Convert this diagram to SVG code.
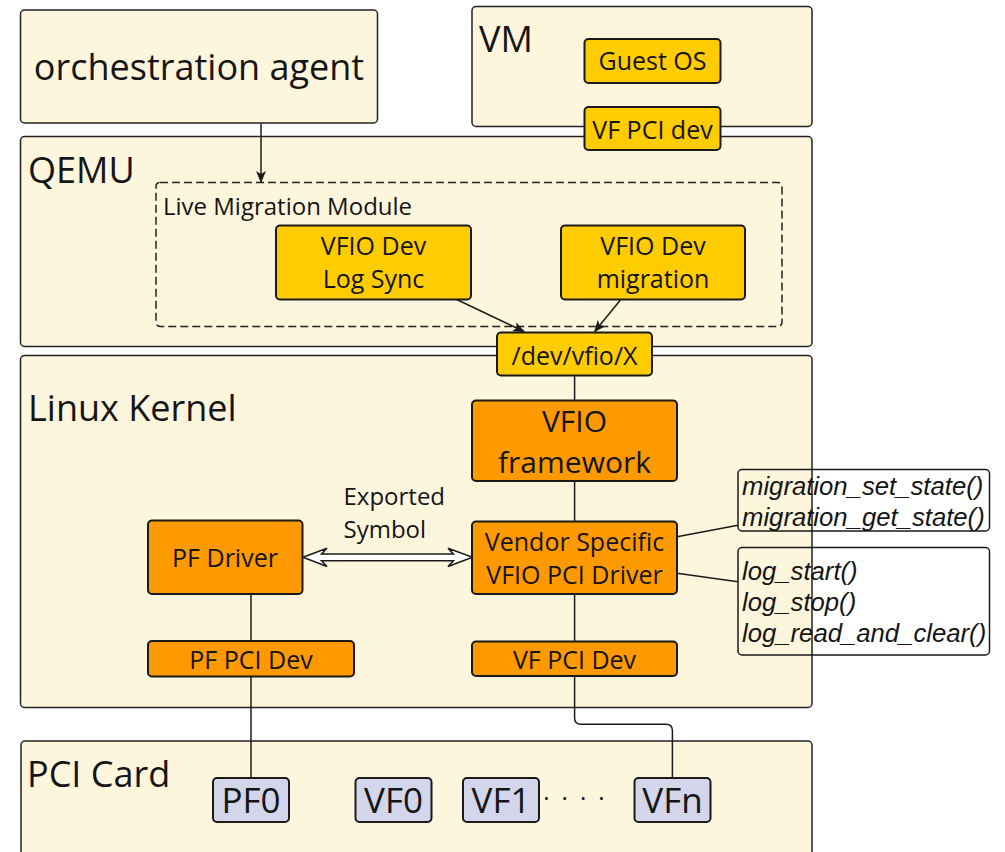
<svg xmlns="http://www.w3.org/2000/svg" width="1005" height="852" viewBox="0 0 1005 852">
<defs>
<style>
.bg{fill:#fdf6dc;stroke:#222;stroke-width:1.5}
.yl{fill:#ffcc00;stroke:#1a1a1a;stroke-width:2}
.or{fill:#ff9900;stroke:#1a1a1a;stroke-width:2}
.lv{fill:#d3d5ea;stroke:#1a1a1a;stroke-width:2}
.fn{fill:none;stroke:#1a1a1a;stroke-width:1.5}
.dash{fill:none;stroke:#222;stroke-width:1.5;stroke-dasharray:8 4}
text{font-family:"Open Sans","Noto Sans",sans-serif;fill:#151515}
.big{font-size:36px}
.mid{font-size:25px;text-anchor:middle}
.lg{font-size:30px;text-anchor:middle}
.card{font-size:35px;text-anchor:middle}
.lbl{font-size:24px}
.it{font-family:"Liberation Sans",Arial,sans-serif;font-style:italic;font-size:25.7px}
.c{fill:none;stroke:#1a1a1a;stroke-width:1.5}
</style>
<marker id="ah" viewBox="0 0 12 10" refX="11" refY="5" markerWidth="12" markerHeight="10" markerUnits="userSpaceOnUse" orient="auto">
<path d="M0,0 L12,5 L0,10 L3,5 Z" fill="#1a1a1a"/>
</marker>
</defs>

<g id="orchestration">
<rect class="bg" x="20.5" y="10" width="357" height="113" rx="4"/>
<text class="big" x="199" y="80" text-anchor="middle">orchestration agent</text>
</g>

<g id="vm">
<rect class="bg" x="472" y="6.5" width="340" height="120" rx="4"/>
<text class="big" x="479" y="52">VM</text>
</g>

<g id="qemu">
<rect class="bg" x="20.5" y="136.5" width="791.5" height="210" rx="4"/>
<text class="big" x="28" y="183">QEMU</text>
</g>

<g id="linux-kernel">
<rect class="bg" x="20.5" y="355.5" width="791.5" height="352" rx="4"/>
<text class="big" x="28" y="421">Linux Kernel</text>
</g>

<g id="pci-card">
<rect class="bg" x="21" y="741" width="791" height="130" rx="4"/>
<text class="big" x="27" y="787">PCI Card</text>
</g>

<g id="guest-os">
<rect class="yl" x="584.5" y="39" width="136" height="44" rx="4"/>
<text class="mid" x="652.5" y="69.5">Guest OS</text>
</g>

<g id="vf-pci-dev-vm">
<rect class="yl" x="584.5" y="107" width="136" height="43" rx="4"/>
<text class="mid" x="652.5" y="138.5">VF PCI dev</text>
</g>

<g id="live-migration-module">
<rect class="dash" x="156" y="182.5" width="626" height="144" rx="4"/>
<text class="lbl" x="163" y="215">Live Migration Module</text>
</g>

<g id="log-sync">
<rect class="yl" x="276" y="225.5" width="195" height="74" rx="4"/>
<text class="mid" x="373.5" y="255">VFIO Dev</text>
<text class="mid" x="373.5" y="288">Log Sync</text>
</g>

<g id="dev-migration">
<rect class="yl" x="561" y="225.5" width="184" height="74" rx="4"/>
<text class="mid" x="653" y="255">VFIO Dev</text>
<text class="mid" x="653" y="288">migration</text>
</g>

<g id="connectors">
<path class="c" d="M261,123.5 V182" marker-end="url(#ah)"/>
<path class="c" d="M456.7,299.5 L524,331.5" marker-end="url(#ah)"/>
<path class="c" d="M620.4,300 L594.7,331.5" marker-end="url(#ah)"/>
<path class="c" d="M574.6,375.7 V400"/>
<path class="c" d="M574.6,481 V521.7"/>
<path class="c" d="M574.6,594 V641.7"/>
<path class="c" d="M574.6,676 V718 Q574.6,724.3 581,724.3 H666 Q672.4,724.3 672.4,730.6 V777.7"/>
<path class="c" d="M251,594.3 V641"/>
<path class="c" d="M251,676.7 V777.7"/>
<path class="c" d="M677,536.7 L738,525.3"/>
<path class="c" d="M677,573.3 L738,581.7"/>
<path d="M303,557.3 L327,548.3 L321.5,554 H453.5 L448,548.3 L472.5,557.3 L448,566.5 L453.5,560.7 H321.5 L327,566.5 Z" fill="#ffffff" stroke="#1a1a1a" stroke-width="1.5" stroke-linejoin="miter"/>
</g>

<g id="dev-vfio">
<rect class="yl" x="497" y="332.5" width="155" height="43" rx="4"/>
<text class="mid" x="574.5" y="365">/dev/vfio/X</text>
</g>

<g id="vfio-framework">
<rect class="or" x="472" y="400.5" width="205" height="80.5" rx="4"/>
<text class="lg" x="574.5" y="432">VFIO</text>
<text class="lg" x="574.5" y="473">framework</text>
</g>

<g id="vendor-driver">
<rect class="or" x="472" y="521.5" width="205" height="72.5" rx="4"/>
<text class="mid" x="574.5" y="551">Vendor Specific</text>
<text class="mid" x="574.5" y="583.5">VFIO PCI Driver</text>
</g>

<g id="vf-pci-dev">
<rect class="or" x="472" y="641.5" width="205" height="34.5" rx="4"/>
<text class="mid" x="574.5" y="668.5">VF PCI Dev</text>
</g>

<g id="pf-driver">
<rect class="or" x="148" y="520.5" width="154.5" height="73.5" rx="4"/>
<text class="mid" x="225" y="567">PF Driver</text>
</g>

<g id="pf-pci-dev">
<rect class="or" x="148" y="641" width="206" height="35.5" rx="4"/>
<text class="mid" x="251" y="668.5">PF PCI Dev</text>
</g>

<g id="exported-symbol">
<text class="lbl" x="343.5" y="505">Exported</text>
<text class="lbl" x="343.5" y="537.5">Symbol</text>
</g>

<g id="migration-state-fns">
<rect class="fn" x="738" y="469.5" width="251.5" height="61.5" rx="4"/>
<text class="it" x="742" y="495">migration_set_state()</text>
<text class="it" x="742" y="526">migration_get_state()</text>
</g>

<g id="log-fns">
<rect class="fn" x="738" y="547.5" width="251.5" height="107.5" rx="4"/>
<text class="it" x="742" y="580">log_start()</text>
<text class="it" x="742" y="611">log_stop()</text>
<text class="it" x="742" y="642">log_read_and_clear()</text>
</g>

<g id="pf0">
<rect class="lv" x="213" y="778" width="76" height="44" rx="4"/>
<text class="card" x="251" y="813">PF0</text>
</g>
<g id="vf0">
<rect class="lv" x="355.5" y="778" width="76" height="44" rx="4"/>
<text class="card" x="393.5" y="813">VF0</text>
</g>
<g id="vf1">
<rect class="lv" x="463" y="778" width="76" height="44" rx="4"/>
<text class="card" x="501" y="813">VF1</text>
</g>
<g id="dots">
<text x="543.3" y="807" style="font-size:24px" letter-spacing="12">····</text>
</g>
<g id="vfn">
<rect class="lv" x="634.5" y="778" width="76" height="44" rx="4"/>
<text class="card" x="672.5" y="813">VFn</text>
</g>
</svg>
